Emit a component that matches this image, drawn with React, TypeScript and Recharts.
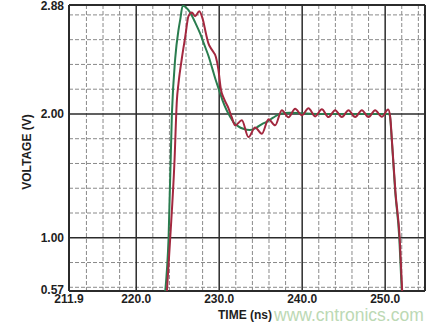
import { LineChart, Line, XAxis, YAxis, ReferenceLine } from "recharts";

// tick labels and grid positions
const X_TICKS = [211.9, 220.0, 230.0, 240.0, 250.0];
const Y_TICKS = [0.57, 1.0, 2.0, 2.88];
const X_MAJOR = [220, 230, 240, 250];
const X_MINOR = [214, 216, 218, 222, 224, 226, 228, 232, 234, 236, 238, 242, 244, 246, 248, 252, 254];
const Y_MAJOR = [1.0, 2.0];
const Y_MINOR = [0.6, 0.8, 1.2, 1.4, 1.6, 1.8, 2.2, 2.4, 2.6, 2.8];

// green trace (ns, V)
const GREEN_T = [
  223.5, 223.9, 224.3, 224.7, 225.1, 225.3, 225.6, 226.0, 226.5, 227.1, 227.7, 228.2, 228.7,
  229.2, 229.6, 230.0, 230.4, 230.9, 231.3, 231.7, 232.3, 232.9, 233.7, 234.5, 235.2, 235.7,
  236.5, 237.3, 238.5, 240.0, 242.0, 244.0, 246.0, 248.0, 250.4, 250.55, 250.8, 251.2, 251.7, 252.0,
];
const GREEN_V = [
  0.57, 1.0, 2.0, 2.45, 2.68, 2.76, 2.873, 2.86, 2.82, 2.74, 2.65, 2.56, 2.47,
  2.36, 2.27, 2.19, 2.11, 2.03, 1.98, 1.935, 1.9, 1.88, 1.87, 1.89, 1.92, 1.935,
  1.97, 2.0, 2.01, 2.005, 2.0, 2.0, 2.0, 2.0, 2.0, 1.99, 1.79, 1.38, 1.0, 0.57,
];

// dark red trace (ns, V)
const RED_T = [
  223.7, 224.1, 224.6, 224.9, 225.1, 225.5, 225.9, 226.3, 226.7, 227.1, 227.6, 228.0, 228.4,
  228.7, 229.1, 229.6, 229.9, 230.2, 230.6, 231.1, 231.5, 231.92, 232.73, 233.53, 234.33,
  235.14, 235.95, 236.74, 237.55, 238.35, 239.15, 239.96, 240.76, 241.56, 242.37, 243.17,
  243.97, 244.78, 245.58, 246.38, 247.19, 247.99, 248.79, 249.6, 250.36, 250.6, 250.85,
  251.25, 251.75, 252.05,
];
const RED_V = [
  0.57, 1.0, 1.6, 2.11, 2.25, 2.45, 2.62, 2.79, 2.82, 2.79, 2.83, 2.77, 2.65,
  2.57, 2.52, 2.46, 2.36, 2.2, 2.12, 2.05, 1.976, 1.908, 1.949, 1.813, 1.89,
  1.84, 1.957, 1.908, 2.03, 1.973, 2.042, 1.99, 2.046, 1.98, 2.038, 1.975,
  2.03, 1.975, 2.03, 1.975, 2.03, 1.975, 2.03, 1.977, 2.035, 1.98, 1.75,
  1.36, 1.0, 0.57,
];

const greenData = GREEN_T.map((t, i) => ({ t, v: GREEN_V[i] }));
const redData = RED_T.map((t, i) => ({ t, v: RED_V[i] }));

const FONT = "'Liberation Sans', Arial, Helvetica, sans-serif";
const LABEL = "#1e1e1e";
const MAJOR = "#2b2b2b";
const MINOR = "#8a8a8a";
const GREEN = "#2a7d4f";
const RED = "#a3283f";

const XTick = (props: any) => (
  <text x={props.x} y={303} textAnchor="middle" fontFamily={FONT} fontWeight="bold" fontSize={12} fill={LABEL}>
    {Number(props.payload.value).toFixed(1)}
  </text>
);

const YTick = (props: any) => {
  const v = Number(props.payload.value);
  // keep the outermost labels inside the picture / off the x labels
  const shift = v === 2.88 ? 1 : v === 0.57 ? -1 : 0;
  return (
    <text x={64} y={props.y + shift} dy="0.36em" textAnchor="end" fontFamily={FONT} fontWeight="bold" fontSize={12} fill={LABEL}>
      {v.toFixed(2)}
    </text>
  );
};

export default function App() {
  return (
    <div style={{ position: "absolute", left: 0, top: 0, width: 442, height: 331, background: "#fff" }}>
      <LineChart width={442} height={331} margin={{ top: 5, right: 17, left: 0, bottom: 0 }}>
        <XAxis
          type="number"
          dataKey="t"
          domain={[211.9, 254.8]}
          ticks={X_TICKS}
          interval={0}
          tick={<XTick />}
          tickLine={false}
          axisLine={false}
          height={40}
          allowDataOverflow
          label={{
            content: (p: any) => (
              <text
                x={p.viewBox.x + p.viewBox.width / 2 - 2}
                y={319}
                textAnchor="middle"
                fontFamily={FONT}
                fontWeight="bold"
                fontSize={12}
                fill={LABEL}
              >
                TIME (ns)
              </text>
            ),
          }}
        />
        <YAxis
          type="number"
          domain={[0.57, 2.88]}
          ticks={Y_TICKS}
          interval={0}
          tick={<YTick />}
          tickLine={false}
          axisLine={false}
          width={69}
          allowDataOverflow
          label={{
            content: () => (
              <text
                x={27}
                y={152}
                transform="rotate(-90 27 152)"
                textAnchor="middle"
                dominantBaseline="central"
                fontFamily={FONT}
                fontWeight="bold"
                fontSize={12}
                fill={LABEL}
              >
                VOLTAGE (V)
              </text>
            ),
          }}
        />
        {X_MINOR.map((x) => (
          <ReferenceLine key={`xm${x}`} x={x} stroke={MINOR} strokeDasharray="4 2" strokeWidth={1} />
        ))}
        {Y_MINOR.map((y) => (
          <ReferenceLine key={`ym${y}`} y={y} stroke={MINOR} strokeDasharray="4 2" strokeWidth={1} />
        ))}
        {X_MAJOR.map((x) => (
          <ReferenceLine key={`xM${x}`} x={x} stroke={MAJOR} strokeWidth={1.5} />
        ))}
        {Y_MAJOR.map((y) => (
          <ReferenceLine key={`yM${y}`} y={y} stroke={MAJOR} strokeWidth={1.5} />
        ))}
        <ReferenceLine x={211.9} stroke={MAJOR} strokeWidth={2} />
        <ReferenceLine x={254.8} stroke={MAJOR} strokeWidth={2} />
        <ReferenceLine y={0.57} stroke={MAJOR} strokeWidth={2} />
        <ReferenceLine y={2.88} stroke={MAJOR} strokeWidth={2} />
        <Line
          data={greenData}
          dataKey="v"
          type="monotone"
          stroke={GREEN}
          strokeWidth={2}
          dot={false}
          isAnimationActive={false}
        />
        <Line
          data={redData}
          dataKey="v"
          type="monotone"
          stroke={RED}
          strokeWidth={2}
          dot={false}
          isAnimationActive={false}
        />
      </LineChart>
      <span
        style={{
          position: "absolute",
          left: 274,
          top: 307,
          fontFamily: FONT,
          fontSize: 17.5,
          lineHeight: 1,
          color: "#bcd9b4",
          pointerEvents: "none",
          whiteSpace: "nowrap",
        }}
      >
        www.cntronics.com
      </span>
    </div>
  );
}
